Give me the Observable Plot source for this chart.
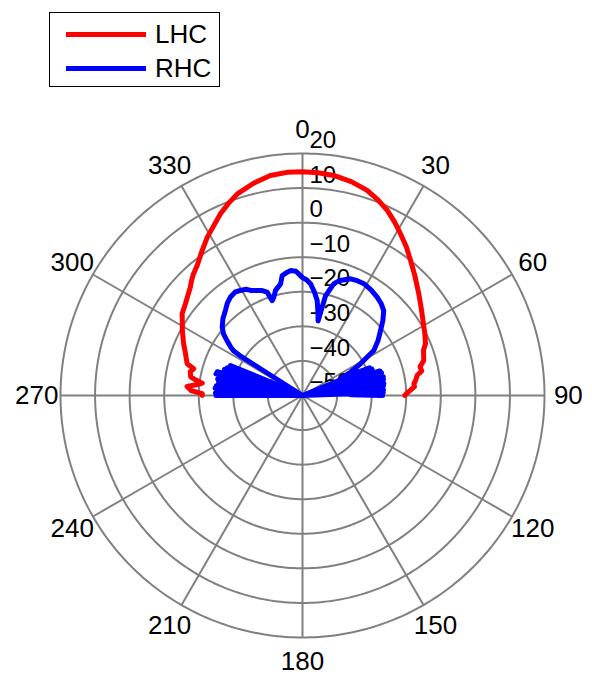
<!DOCTYPE html>
<html>
<head>
<meta charset="utf-8">
<script src="https://cdn.jsdelivr.net/npm/d3@7"></script>
<script src="https://cdn.jsdelivr.net/npm/@observablehq/plot@0.6"></script>
<style>
  html, body { margin: 0; padding: 0; background: #fff; }
  body { font-family: "Liberation Sans", Arial, Helvetica, sans-serif; }
  #wrap { position: relative; width: 592px; height: 687px; overflow: hidden; }
  #legend { position: absolute; left: 49px; top: 12px; width: 171px; height: 75px;
            box-sizing: border-box; border: 1.5px solid #000; background: #fff; }
  .sw { position: absolute; left: 16px; width: 80px; height: 5px; }
  .lb { position: absolute; left: 105px; font-size: 26px; line-height: 26px; color: #000; }
</style>
</head>
<body>
<div id="wrap">
  <div id="chart"></div>
  <div id="legend"></div>
</div>
<script>
// ---- data (angle in degrees clockwise from top, negative = 270..360 side; gain in dB) ----
const seriesNames = ["LHC", "RHC"];
const seriesColors = ["#ff0000", "#0000ff"];

const lhcAngles = [-90, -89, -87.5, -85.5, -84, -83, -81.5, -80.5, -78, -76.2, -74.6, -72, -70.4, -66.5,
  -61.6, -58, -55.8, -52, -49.5, -46, -44, -42, -39, -35, -31, -27, -24.3, -21, -17.9, -13, -8.3, -4, 0,
  4, 8.1, 13, 17.5, 21, 24.6, 28, 31.2, 35, 38.7, 43, 48.8, 54, 60.6, 63, 67.2, 69.4, 73.9, 76.3, 78.4,
  80, 82.4, 84, 85.5, 87.3, 89, 90];
const lhcGains = [-21.0, -21.0, -17.8, -16.5, -19.5, -20.8, -18.5, -17.2, -16.8, -17.6, -15.4, -14.6, -14.1, -12.5,
  -10.5, -9.0, -7.9, -7.0, -6.2, -4.9, -3.8, -2.8, -1.6, 0.8, 3.45, 5.8, 7.65, 9.6, 11.3, 13.0, 14.3, 14.7, 14.7,
  14.6, 14.3, 13.4, 12.2, 10.7, 8.9, 6.8, 4.7, 2.4, 0.0, -2.4, -5.3, -7.5, -9.7, -10.3, -11.4, -12.6, -13.5, -15.0, -14.8,
  -16.3, -17.0, -17.6, -17.5, -18.8, -20.0, -20.4];

const rhcAngles = [-90, -89.2, -88.4, -86.6, -85.2, -84.4, -83.6, -81.9, -80.6, -79.8, -79.0, -77.3, -76.0, -75.2,
  -74.4, -72.7, -71.4, -70.6, -69.8, -68.2, -67.4, -66.6, -62,
  -57.5, -57, -56, -54, -52, -49.6, -46, -42.2, -39, -36.2, -33, -30.6, -28, -26.3, -23.3, -21, -18.9, -17.7,
  -16.3, -14.4, -11.1, -9.6, -7.5, -5.5, -3, 0, 2, 4.1, 6.5, 8.8, 10.5, 11.8, 12.5, 13, 14, 15.7, 18, 22.4,
  25.5, 28.8, 33, 37.2, 40.5, 43.7, 47, 50.2, 54, 57.7, 61.3, 64.1,
  66, 67.6, 68.4, 69.2, 70.9, 72.4, 73.2, 74, 75.7, 77, 77.8, 78.6, 80.3, 81.6, 82.4, 83.2, 84.9, 86.2, 87,
  87.8, 89.2, 90];
const rhcGains = [-25.0, -50, -24.8, -37, -24.6, -50, -24.9, -37, -25.4, -50, -25.0, -37, -24.2, -50,
  -24.4, -38, -26.2, -50, -26.8, -38, -27.4, -44, -50,
  -28.5, -26.2, -25.0, -23.0, -21.0, -19.5, -18.0, -16.8, -15.5, -14.7, -14.3, -14.7, -15.2, -16.1, -16.9, -17.5, -18.4, -21.2,
  -20.4, -18.6, -17.1, -14.8, -14.2, -13.7, -14.0, -15.9, -16.5, -17.6, -19.8, -22.2, -25.5, -28.0, -24.0, -20.5, -19.0, -16.4, -15.0, -13.5,
  -13.2, -13.1, -13.6, -14.3, -15.0, -16.0, -18.2, -20.6, -23.0, -25.6, -30.9, -34.6,
  -38, -29, -50, -28.5, -38, -26.5, -50, -26.2, -37, -26.0, -50, -26.1, -37, -26.2, -50, -26.4, -37, -26.5, -50,
  -26.6, -36, -26.8];

const angleTicks = [0, 30, 60, 90, 120, 150, 180, 210, 240, 270, 300, 330];
const gainTicks = [20, 10, 0, -10, -20, -30, -40, -50];

// ---- polar mapping onto the azimuthal projection ----
const rMin = d3.min(gainTicks), rMax = d3.max(gainTicks);
const lon = a => 180 - a;                         // clockwise from top
const lat = g => 90 - (Math.max(g, rMin) - rMin); // radius in "degrees"
const labelLat = lat(rMax) - 6.9;

const lhc = lhcAngles.map((a, i) => ({series: seriesNames[0], a, g: lhcGains[i]}));
const rhc = rhcAngles.map((a, i) => ({series: seriesNames[1], a, g: rhcGains[i]}));

const fmt = g => g < 0 ? "\u2212" + Math.abs(g) : String(g);
const font = "'Liberation Sans', Arial, Helvetica, sans-serif";

const chart = Plot.plot({
  width: 592,
  height: 687,
  marginLeft: 60,
  marginRight: 48,
  marginTop: 153,
  marginBottom: 50,
  projection: {
    type: "azimuthal-equidistant",
    rotate: [0, -90],
    clip: false,
    domain: d3.geoCircle().center([0, 90]).radius(rMax - rMin)()
  },
  style: {fontFamily: font, background: "#fff", overflow: "visible"},
  marks: [
    Plot.geo(gainTicks.filter(g => g > rMin), {
      geometry: g => d3.geoCircle().center([0, 90]).radius(g - rMin).precision(1)(),
      stroke: "#808080", strokeWidth: 2, fill: "none", clip: false
    }),
    Plot.link(angleTicks, {
      x1: a => lon(a), y1: 90, x2: a => lon(a), y2: lat(rMax),
      stroke: "#808080", strokeWidth: 2, clip: false
    }),
    Plot.text(angleTicks, {
      x: a => lon(a), y: labelLat, text: a => String(a),
      fontSize: 26, fill: "#000", clip: false
    }),
    Plot.text(gainTicks, {
      x: 180, y: g => lat(g), text: fmt,
      textAnchor: "start", dx: 7, dy: -13, fontSize: 24, fill: "#000", clip: false
    }),
    Plot.line(lhc, {
      x: d => lon(d.a), y: d => lat(d.g), stroke: seriesColors[0],
      strokeWidth: 5, curve: "linear", strokeLinejoin: "round", strokeLinecap: "round", clip: false
    }),
    Plot.line(rhc, {
      x: d => lon(d.a), y: d => lat(d.g), stroke: seriesColors[1],
      strokeWidth: 5, curve: "linear", strokeLinejoin: "round", strokeLinecap: "round", clip: false
    })
  ]
});
document.getElementById("chart").appendChild(chart);

// ---- legend ----
const legend = document.getElementById("legend");
seriesNames.forEach((name, i) => {
  const top = i === 0 ? 17 : 51;
  const sw = document.createElement("div");
  sw.className = "sw";
  sw.style.top = (top + 2) + "px";
  sw.style.background = seriesColors[i];
  legend.appendChild(sw);
  const lb = document.createElement("div");
  lb.className = "lb";
  lb.style.top = (top - 9) + "px";
  lb.textContent = name;
  legend.appendChild(lb);
});
</script>
</body>
</html>
